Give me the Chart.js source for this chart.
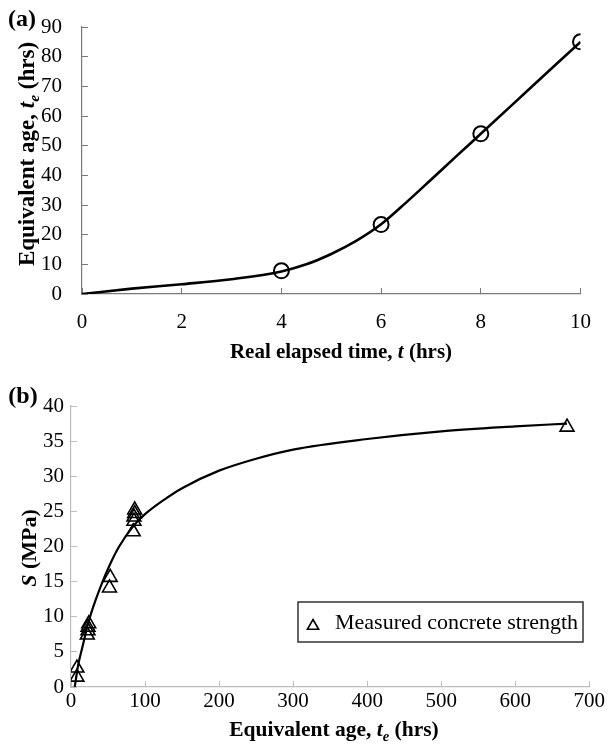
<!DOCTYPE html>
<html>
<head>
<meta charset="utf-8">
<script src="https://cdn.jsdelivr.net/npm/chart.js@4/dist/chart.umd.min.js"></script>
<style>
  html, body { margin: 0; padding: 0; background: #fff; }
  .panel { position: absolute; left: 0; width: 613px; }
</style>
</head>
<body>
<div class="panel" style="top:0;height:370px"><canvas id="chartA" width="613" height="370"></canvas></div>
<div class="panel" style="top:370px;height:376px"><canvas id="chartB" width="613" height="376"></canvas></div>
<script>
// ---------- Panel (a) data ----------
const realTimeTicks = [0, 2, 4, 6, 8, 10];
const equivAgeTicks = [0, 10, 20, 30, 40, 50, 60, 70, 80, 90];
const measuredRealTime = [4, 6, 8, 10];
const measuredEquivAge = [7.8, 23.4, 54, 85];
const curveRealTime = [0, 1, 2, 3, 4, 4.5, 5, 5.5, 6, 6.5, 7, 7.5, 8, 9, 10];
const curveEquivAge = [0, 1.8, 3.3, 5.0, 7.6, 10.0, 13.5, 17.9, 23.5, 30.8, 38.5, 46.3, 54.0, 69.5, 85.0];

// ---------- Panel (b) data ----------
const ageTicks = [0, 100, 200, 300, 400, 500, 600, 700];
const strengthTicks = [0, 5, 10, 15, 20, 25, 30, 35, 40];
const measuredAge = [8, 8, 22, 23, 23, 24, 52, 53, 84, 85, 85, 86, 86, 670];
const measuredStrength = [1.4, 2.7, 7.4, 8.0, 8.5, 9.0, 14.1, 15.6, 22.1, 23.6, 24.2, 24.7, 25.2, 37.0];
const fitAge = [5, 10, 15, 23, 30, 40, 52, 65, 85, 100, 125, 150, 200, 250, 300, 400, 500, 600, 670];
const fitStrength = [0, 3.3, 5.5, 9.0, 11.4, 14.3, 17.3, 20.0, 23.0, 24.6, 26.6, 28.3, 30.8, 32.5, 33.8, 35.3, 36.4, 37.1, 37.5];

const SERIF = '"Liberation Serif", "Times New Roman", serif';

function pts(xs, ys) { return xs.map((x, i) => ({ x: x, y: ys[i] })); }

// draw mixed-style text centred at (cx, cy), optionally rotated
function drawRich(ctx, segments, cx, cy, size, rotate) {
  ctx.save();
  const parts = segments.map(s => {
    const sz = s.sub ? size * 0.68 : size;
    const font = (s.style || 'bold') + ' ' + sz + 'px ' + SERIF;
    ctx.font = font;
    return { t: s.t, sub: !!s.sub, font: font, w: ctx.measureText(s.t).width };
  });
  const total = parts.reduce((a, p) => a + p.w, 0);
  ctx.translate(cx, cy);
  if (rotate) ctx.rotate(-Math.PI / 2);
  ctx.fillStyle = '#000';
  ctx.textBaseline = 'alphabetic';
  let x = -total / 2;
  const base = size * 0.33;
  for (const p of parts) {
    ctx.font = p.font;
    ctx.fillText(p.t, x, base + (p.sub ? size * 0.22 : 0));
    x += p.w;
  }
  ctx.restore();
}

const richText = {
  id: 'richText',
  afterDraw(chart, args, opts) {
    const ctx = chart.ctx;
    (opts.items || []).forEach(it => drawRich(ctx, it.segments, it.x, it.y, it.size, it.rotate));
  }
};

const boxLegend = {
  id: 'boxLegend',
  afterDraw(chart, args, opts) {
    if (!opts.show) return;
    const ctx = chart.ctx;
    const ds = chart.data.datasets[opts.datasetIndex];
    ctx.save();
    ctx.strokeStyle = '#333';
    ctx.lineWidth = 1.5;
    ctx.strokeRect(opts.x, opts.y, opts.w, opts.h);
    ctx.strokeStyle = '#000';
    ctx.fillStyle = 'rgba(0,0,0,0)';
    ctx.lineWidth = ds.borderWidth;
    Chart.helpers.drawPoint(ctx, { pointStyle: ds.pointStyle, radius: opts.markerRadius, borderWidth: ds.borderWidth }, opts.markerX, opts.markerY);
    ctx.font = opts.fontSize + 'px ' + SERIF;
    ctx.fillStyle = '#000';
    ctx.textBaseline = 'middle';
    ctx.fillText(ds.label, opts.textX, opts.textY);
    ctx.restore();
  }
};

function axisOpts(min, max, tickList, color, pad, size) {
  return {
    type: 'linear', min: min, max: max,
    afterBuildTicks: s => { s.ticks = tickList.map(v => ({ value: v })); },
    grid: { drawOnChartArea: false, drawTicks: true, tickLength: -6, color: color, lineWidth: 1 },
    border: { display: true, color: color, width: 1.2 },
    ticks: { color: '#000', padding: pad, font: { family: SERIF, size: size }, maxRotation: 0, autoSkip: false }
  };
}

// ---------- Chart (a) ----------
const axA = '#7a7a7a';
const scaleAx = axisOpts(0, 10, realTimeTicks, axA, 22, 21);
scaleAx.afterFit = s => { s.height = 76; };
const scaleAy = axisOpts(0, 90, equivAgeTicks, axA, 26, 21);
scaleAy.afterFit = s => { s.width = 82; s.paddingTop = 8; s.paddingBottom = 8; };

new Chart(document.getElementById('chartA'), {
  type: 'scatter',
  data: {
    datasets: [
      { type: 'line', label: 'Equivalent age curve', data: pts(curveRealTime, curveEquivAge),
        borderColor: '#000', borderWidth: 2.6, pointRadius: 0, cubicInterpolationMode: 'monotone', fill: false },
      { label: 'Equivalent age', data: pts(measuredRealTime, measuredEquivAge),
        pointStyle: 'circle', pointRadius: 7.5, borderColor: '#000', borderWidth: 2, backgroundColor: 'rgba(0,0,0,0)' }
    ]
  },
  options: {
    responsive: false, animation: false, events: [],
    layout: { padding: { left: 0, right: 13, top: 27, bottom: 0 } },
    plugins: {
      legend: { display: false }, tooltip: { enabled: false },
      richText: { items: [
        { segments: [{ t: '(a)' }], x: 22, y: 18, size: 24 },
        { segments: [{ t: 'Real elapsed time, ' }, { t: 't', style: 'bold italic' }, { t: ' (hrs)' }], x: 341, y: 351, size: 21 },
        { segments: [{ t: 'Equivalent age, ' }, { t: 't', style: 'bold italic' }, { t: 'e', style: 'bold italic', sub: true }, { t: ' (hrs)' }], x: 26, y: 154, size: 23, rotate: true }
      ] },
      boxLegend: { show: false }
    },
    scales: { x: scaleAx, y: scaleAy }
  },
  plugins: [richText, boxLegend]
});

// ---------- Chart (b) ----------
const axB = '#bdbdbd';
const scaleBx = axisOpts(0, 700, ageTicks, axB, 8, 21);
scaleBx.afterFit = s => { s.height = 59; };
const scaleBy = axisOpts(0, 40, strengthTicks, axB, 13, 21);
scaleBy.afterFit = s => { s.width = 71; s.paddingTop = 8; s.paddingBottom = 8; };

new Chart(document.getElementById('chartB'), {
  type: 'scatter',
  data: {
    datasets: [
      { type: 'line', label: 'Strength fit', data: pts(fitAge, fitStrength),
        borderColor: '#000', borderWidth: 2.2, pointRadius: 0, cubicInterpolationMode: 'monotone', fill: false },
      { label: 'Measured concrete strength', data: pts(measuredAge, measuredStrength),
        pointStyle: 'triangle', pointRadius: 8, borderColor: '#000', borderWidth: 1.6, backgroundColor: 'rgba(0,0,0,0)' }
    ]
  },
  options: {
    responsive: false, animation: false, events: [],
    layout: { padding: { left: 0, right: 18, top: 36, bottom: 0 } },
    plugins: {
      legend: { display: false }, tooltip: { enabled: false },
      richText: { items: [
        { segments: [{ t: '(b)' }], x: 23, y: 25, size: 24 },
        { segments: [{ t: 'Equivalent age, ' }, { t: 't', style: 'bold italic' }, { t: 'e', style: 'bold italic', sub: true }, { t: ' (hrs)' }], x: 334, y: 359, size: 21.5 },
        { segments: [{ t: 'S', style: 'bold italic' }, { t: ' (MPa)' }], x: 29, y: 178, size: 22, rotate: true }
      ] },
      boxLegend: { show: true, datasetIndex: 1, x: 298, y: 232, w: 285, h: 40,
        markerX: 313, markerY: 256, markerRadius: 6.5, textX: 335, textY: 253, fontSize: 22 }
    },
    scales: { x: scaleBx, y: scaleBy }
  },
  plugins: [richText, boxLegend]
});
</script>
</body>
</html>
